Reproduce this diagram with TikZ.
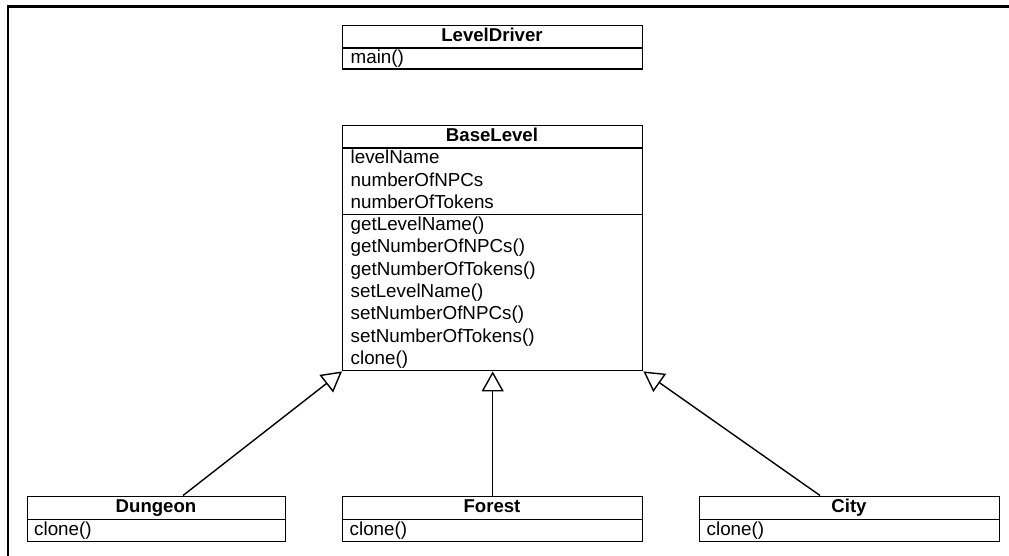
\documentclass[tikz,border=0pt]{standalone}
\usepackage{fontspec}
\setmainfont{Liberation Sans}
\usetikzlibrary{arrows.meta}
\tikzset{
  comp/.style={draw=black, line width=1.4pt, rectangle, inner sep=0pt, anchor=north west},
  ttl/.style={anchor=base, inner sep=0pt, font=\fontsize{18.6}{22}\selectfont\bfseries},
  txt/.style={anchor=base west, inner sep=0pt, font=\fontsize{18.8}{22}\selectfont},
  inh/.style={line width=1.4pt, -{Triangle[open, length=20pt, width=22pt, line width=1.4pt]}},
}
\begin{document}
\begin{tikzpicture}[x=1pt, y=-1pt]
\useasboundingbox (0,0) rectangle (1009,555);
\clip (0,0) rectangle (1009,555);
\draw[line width=2.8pt] (8,560) -- (8,6.5) -- (1015,6.5);

% LevelDriver
\node[comp, minimum width=300pt, minimum height=22.3pt] (ldT) at (342,25) {};
\node[comp, minimum width=300pt, minimum height=21pt] (ldB) at (342,47.3) {};
\node[ttl] (ldTt) at (492,41.5) {LevelDriver};
\node[txt] (ld1) at (350.5,63.8) {main()};

% BaseLevel
\node[comp, minimum width=300pt, minimum height=22.3pt] (blT) at (342,125) {};
\node[comp, minimum width=300pt, minimum height=66.7pt] (blA) at (342,147.3) {};
\node[comp, minimum width=300pt, minimum height=156pt] (blM) at (342,214) {};
\node[ttl] (blTt) at (492,141.5) {BaseLevel};
\node[txt] (a1) at (350.5,163.8) {levelName};
\node[txt] (a2) at (350.5,186) {numberOfNPCs};
\node[txt] (a3) at (350.5,208.2) {numberOfTokens};
\node[txt] (m1) at (350.5,230.5) {getLevelName()};
\node[txt] (m2) at (350.5,252.8) {getNumberOfNPCs()};
\node[txt] (m3) at (350.5,275.1) {getNumberOfTokens()};
\node[txt] (m4) at (350.5,297.4) {setLevelName()};
\node[txt] (m5) at (350.5,319.7) {setNumberOfNPCs()};
\node[txt] (m6) at (350.5,342) {setNumberOfTokens()};
\node[txt] (m7) at (350.5,364.3) {clone()};

% Dungeon
\node[comp, minimum width=258pt, minimum height=23pt] (dT) at (27,495.5) {};
\node[comp, minimum width=258pt, minimum height=22.5pt] (dB) at (27,518.5) {};
\node[ttl] (dTt) at (156,512) {Dungeon};
\node[txt] (d1) at (34,535) {clone()};

% Forest
\node[comp, minimum width=300pt, minimum height=23pt] (fT) at (342,495.5) {};
\node[comp, minimum width=300pt, minimum height=22.5pt] (fB) at (342,518.5) {};
\node[ttl] (fTt) at (492,512) {Forest};
\node[txt] (f1) at (349.5,535) {clone()};

% City
\node[comp, minimum width=300pt, minimum height=23pt] (cT) at (699,495.5) {};
\node[comp, minimum width=300pt, minimum height=22.5pt] (cB) at (699,518.5) {};
\node[ttl] (cTt) at (849,512) {City};
\node[txt] (c1) at (706.5,535) {clone()};

% inheritance
\coordinate (dS) at (183,495.5);
\coordinate (cS) at (820,495.5);
\draw[inh] (dS) -- (blM.south west);
\draw[inh] (fT.north) -- (blM.south);
\draw[inh] (cS) -- (blM.south east);
\end{tikzpicture}
\end{document}
